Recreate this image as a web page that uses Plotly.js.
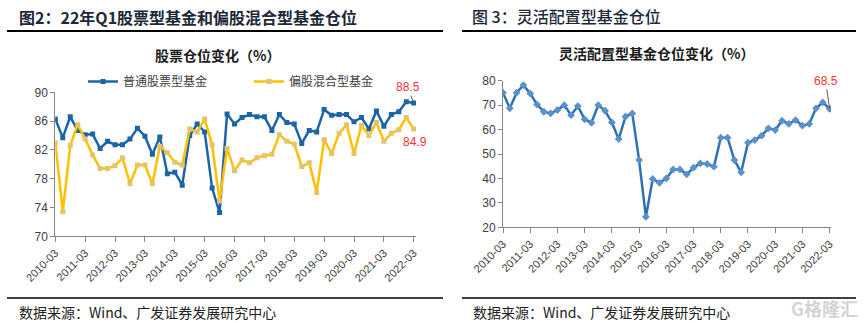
<!DOCTYPE html>
<html>
<head>
<meta charset="utf-8">
<script src="https://cdn.plot.ly/plotly-3.0.1.min.js"></script>
<style>html,body{margin:0;padding:0;background:#fff;}#chart{width:866px;height:323px;}</style>
</head>
<body>
<div id="chart"></div>
<script>
const quarters = ["2010-03","2010-06","2010-09","2010-12","2011-03","2011-06","2011-09","2011-12",
"2012-03","2012-06","2012-09","2012-12","2013-03","2013-06","2013-09","2013-12",
"2014-03","2014-06","2014-09","2014-12","2015-03","2015-06","2015-09","2015-12",
"2016-03","2016-06","2016-09","2016-12","2017-03","2017-06","2017-09","2017-12",
"2018-03","2018-06","2018-09","2018-12","2019-03","2019-06","2019-09","2019-12",
"2020-03","2020-06","2020-09","2020-12","2021-03","2021-06","2021-09","2021-12","2022-03"];
const yearTicks = ["2010-03","2011-03","2012-03","2013-03","2014-03","2015-03","2016-03",
"2017-03","2018-03","2019-03","2020-03","2021-03","2022-03"];
const stockFund = [86.3,83.7,86.6,84.7,84.1,84.2,82.2,83.2,82.7,82.7,83.5,85.0,83.9,81.4,83.8,78.7,
78.9,77.1,84.0,85.6,84.5,76.7,73.3,87.0,85.6,86.5,86.9,86.6,86.6,84.7,86.9,85.8,85.6,82.9,84.7,84.5,
87.6,86.8,86.9,86.9,85.9,86.5,84.9,87.4,85.3,86.9,87.3,88.7,88.5];
const mixedFund = [83.0,73.4,82.6,85.5,83.5,81.3,79.4,79.4,79.8,80.9,77.3,79.9,79.9,77.3,82.5,81.6,
80.3,79.9,84.9,84.5,86.3,82.7,74.9,82.2,79.1,80.6,80.2,80.9,81.2,81.4,84.1,83.2,82.8,79.7,80.2,76.1,
83.4,81.5,84.3,85.5,81.5,85.4,84.0,85.8,83.2,84.3,84.8,86.5,84.9];
const flexFund = [75.1,68.7,75.1,78.2,74.8,70.3,67.3,66.6,68.0,70.0,65.9,69.6,64.2,62.8,70.0,67.7,
62.9,56.1,65.3,66.6,47.5,24.3,39.8,38.2,40.0,43.7,43.7,41.7,44.4,46.2,45.9,44.8,56.7,56.7,47.5,42.5,
54.6,55.7,57.5,60.5,59.8,63.6,62.3,63.9,61.6,62.3,68.7,71.1,68.5];
const seriesNames = ["普通股票型基金","偏股混合型基金","灵活配置型基金"];
const leftTicks = [70,74,78,82,86,90];
const rightTicks = [20,30,40,50,60,70,80];

const W = 866, H = 323;
const px = v => v / W, py = v => (H - v) / H;
const CJK = "Noto Sans CJK SC, sans-serif";
const LAT = "Liberation Sans, Arial, sans-serif";
const last = a => a[a.length - 1];

const traces = [
  {x: quarters, y: stockFund, name: seriesNames[0], type: "scatter", mode: "lines+markers",
   xaxis: "x", yaxis: "y",
   line: {color: "#1c64a8", width: 2.5}, marker: {symbol: "square", size: 5, color: "#1c64a8"}},
  {x: quarters, y: mixedFund, name: seriesNames[1], type: "scatter", mode: "lines+markers",
   xaxis: "x", yaxis: "y",
   line: {color: "#ffc000", width: 2.5}, marker: {symbol: "square", size: 5, color: "#e2c46c"}},
  {x: quarters, y: flexFund, name: seriesNames[2], type: "scatter", mode: "lines+markers",
   xaxis: "x2", yaxis: "y2", showlegend: false,
   line: {color: "#2e72b3", width: 2.5}, marker: {symbol: "diamond", size: 6, color: "#5a90cb"}}
];

const axisCommon = {
  showline: true, linecolor: "#868686", linewidth: 1, ticks: "outside", tickcolor: "#868686",
  showgrid: false, zeroline: false, fixedrange: true
};

const layout = {
  width: W, height: H, margin: {l: 0, r: 0, t: 0, b: 0},
  paper_bgcolor: "#ffffff", plot_bgcolor: "rgba(0,0,0,0)",
  showlegend: true,
  legend: {orientation: "h", x: px(83), xanchor: "left", y: py(81.5), yanchor: "middle",
    entrywidth: 121, entrywidthmode: "pixels", itemwidth: 30,
    font: {family: CJK, size: 12, color: "#404040"}, bgcolor: "rgba(0,0,0,0)"},
  xaxis: Object.assign({}, axisCommon, {domain: [px(55.3), px(416)], type: "category",
    range: [0, 48.3], tickmode: "array", tickvals: yearTicks, ticktext: yearTicks,
    tickangle: -45, ticklen: 5, tickfont: {family: LAT, size: 11, color: "#404040"}, anchor: "y"}),
  yaxis: Object.assign({}, axisCommon, {domain: [py(236.3), py(92.3)], range: [70, 90],
    tickmode: "array", tickvals: leftTicks, ticklen: 4,
    tickfont: {family: LAT, size: 12, color: "#404040"}, anchor: "x"}),
  xaxis2: Object.assign({}, axisCommon, {domain: [px(503), px(831)], type: "category",
    range: [0, 48.2], tickmode: "array", tickvals: yearTicks, ticktext: yearTicks,
    tickangle: -45, ticklen: 5, tickfont: {family: LAT, size: 11, color: "#404040"}, anchor: "y2"}),
  yaxis2: Object.assign({}, axisCommon, {domain: [py(227.3), py(80.7)], range: [20, 80],
    tickmode: "array", tickvals: rightTicks, ticklen: 4,
    tickfont: {family: LAT, size: 12, color: "#404040"}, anchor: "x2"}),
  shapes: [
    {type: "line", xref: "paper", yref: "paper", x0: px(7), x1: px(443), y0: py(31), y1: py(31), line: {color: "#000", width: 2}},
    {type: "line", xref: "paper", yref: "paper", x0: px(462), x1: px(856), y0: py(31), y1: py(31), line: {color: "#000", width: 2}},
    {type: "line", xref: "paper", yref: "paper", x0: px(7), x1: px(443), y0: py(298), y1: py(298), line: {color: "#000", width: 1.5}},
    {type: "line", xref: "paper", yref: "paper", x0: px(462), x1: px(856), y0: py(298), y1: py(298), line: {color: "#000", width: 1.5}}
  ],
  annotations: [
    {text: "图2：22年Q1股票型基金和偏股混合型基金仓位", xref: "paper", yref: "paper", x: px(17), y: py(16.5),
     xanchor: "left", yanchor: "middle", showarrow: false, font: {family: CJK, size: 16, color: "#1d2838", weight: 700}},
    {text: "图 3：灵活配置型基金仓位", xref: "paper", yref: "paper", x: px(470), y: py(16),
     xanchor: "left", yanchor: "middle", showarrow: false, font: {family: CJK, size: 16, color: "#1d2838", weight: 500}},
    {text: "股票仓位变化（%）", xref: "paper", yref: "paper", x: px(217), y: py(55),
     xanchor: "center", yanchor: "middle", showarrow: false, font: {family: CJK, size: 14, color: "#1a1a1a", weight: 700}},
    {text: "灵活配置型基金仓位变化（%）", xref: "paper", yref: "paper", x: px(656), y: py(52.7),
     xanchor: "center", yanchor: "middle", showarrow: false, font: {family: CJK, size: 14, color: "#1a1a1a", weight: 700}},
    {text: "数据来源：Wind、广发证券发展研究中心", xref: "paper", yref: "paper", x: px(17), y: py(312),
     xanchor: "left", yanchor: "middle", showarrow: false, font: {family: CJK, size: 14, color: "#222"}},
    {text: "数据来源：Wind、广发证券发展研究中心", xref: "paper", yref: "paper", x: px(471), y: py(312),
     xanchor: "left", yanchor: "middle", showarrow: false, font: {family: CJK, size: 14, color: "#222"}},
    {text: "G格隆汇", xref: "paper", yref: "paper", x: px(860), y: py(308),
     xanchor: "right", yanchor: "middle", showarrow: false, font: {family: CJK, size: 18, color: "#d4d4d4", weight: 700}},
    {text: last(stockFund).toFixed(1), xref: "x", yref: "y", x: last(quarters), y: last(stockFund),
     showarrow: true, arrowhead: 0, arrowwidth: 1, arrowcolor: "#595959", ax: -6, ay: -16,
     font: {family: LAT, size: 12, color: "#ff3333"}},
    {text: last(mixedFund).toFixed(1), xref: "x", yref: "y", x: last(quarters), y: last(mixedFund),
     showarrow: false, xshift: 1, yshift: -13, font: {family: LAT, size: 12, color: "#ff3333"}},
    {text: last(flexFund).toFixed(1), xref: "x2", yref: "y2", x: last(quarters), y: last(flexFund),
     showarrow: true, arrowhead: 0, arrowwidth: 1, arrowcolor: "#595959", ax: -4, ay: -28,
     font: {family: LAT, size: 12, color: "#ff3333"}}
  ]
};

Plotly.newPlot("chart", traces, layout, {displayModeBar: false, staticPlot: true});
</script>
</body>
</html>
